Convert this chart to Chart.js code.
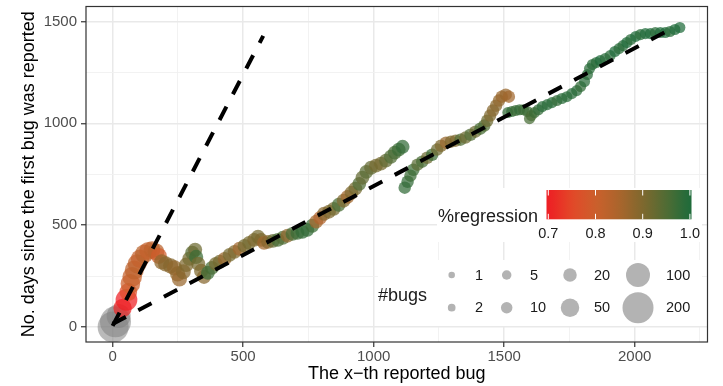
<!DOCTYPE html>
<html><head><meta charset="utf-8">
<script src="https://cdn.jsdelivr.net/npm/chart.js@4"></script>
<style>html,body{margin:0;padding:0;background:#fff}#wrap{position:relative;width:723px;height:386px;overflow:hidden}#c{position:absolute;left:0;top:-6px}</style>
</head><body><div id="wrap"><canvas id="c" width="723" height="392"></canvas></div>
<script>
// ---- data ----
const bugIndex = [2,11,23,38,53,60,68,75,83,94,105,121,136,151,166,177,188,203,222,237,249,256,271,282,294,305,316,320,328,339,350,365,380,395,410,429,448,467,486,505,523,542,557,569,580,595,614,633,652,670,689,708,727,746,765,780,795,810,829,847,866,885,900,915,930,945,957,972,990,1009,1028,1047,1066,1081,1096,1111,
1119,1130,1141,1152,1168,1186,1205,1224,1243,1258,1277,1296,1314,1333,1352,1371,1390,1409,1424,1435,1446,1457,1469,1480,1491,1506,1518,
1514,1529,1544,1559,1574,1589,1597,1604,1616,1631,1646,1665,1683,1702,1721,1740,1759,1778,1793,1808,1819,1827,1838,1853,1868,1887,1906,1924,1940,1955,1970,1985,2004,2022,2041,2060,2079,2098,2117,2135,2154,2173];
const daysSinceFirst = [0,25,54,93,133,172,212,246,280,310,335,359,374,379,369,349,320,310,300,290,261,236,271,305,335,364,379,344,310,275,246,266,290,310,320,334,354,369,384,398,413,428,443,428,413,418,423,428,438,448,457,462,467,477,497,517,536,556,566,580,600,620,639,659,679,703,733,762,782,792,802,817,836,856,871,885,
684,713,743,772,797,812,831,846,871,890,905,910,915,920,930,944,959,974,989,1013,1038,1063,1087,1112,1131,1141,1131,
1053,1058,1063,1067,1067,1058,1023,1038,1053,1067,1082,1092,1102,1112,1122,1131,1146,1161,1181,1205,1240,1269,1289,1299,1308,1318,1333,1353,1367,1382,1397,1412,1427,1436,1441,1441,1446,1446,1446,1451,1461,1471];
const regressionShare = [null,null,null,0.71,0.70,0.76,0.80,0.81,0.82,0.82,0.81,0.83,0.81,0.82,0.83,0.79,0.88,0.89,0.89,0.88,0.88,0.87,0.89,0.90,0.91,0.94,0.92,0.97,0.91,0.90,0.89,0.97,0.96,0.91,0.91,0.87,0.91,0.90,0.86,0.91,0.91,0.90,0.91,0.90,0.86,0.89,0.93,0.96,0.95,0.88,0.96,0.97,0.98,0.98,0.97,0.86,0.84,0.89,0.90,0.91,0.96,0.90,0.86,0.90,0.91,0.95,0.93,0.94,0.93,0.91,0.91,0.93,0.95,0.96,0.97,0.98,
0.98,0.98,0.97,0.97,0.94,0.96,0.92,0.97,0.92,0.90,0.87,0.90,0.90,0.95,0.92,0.95,0.92,0.96,0.95,0.92,0.90,0.89,0.89,0.88,0.87,0.87,0.86,
0.98,0.98,0.97,0.98,0.97,0.97,0.96,0.96,0.97,0.98,0.99,0.99,0.99,0.98,0.99,0.99,0.99,0.99,0.98,0.99,0.99,0.99,0.99,0.99,1.0,0.99,0.99,1.0,0.99,0.99,1.0,0.99,1.0,0.99,1.0,1.0,0.99,1.0,1.0,0.99,1.0,1.0];
const bugCount = [200,200,100,50,80,45,60,60,55,55,50,50,45,40,40,35,30,30,30,30,30,30,28,26,24,24,24,24,24,24,24,22,22,22,22,22,22,22,22,22,22,22,22,22,22,22,22,22,22,22,22,22,22,22,22,22,22,22,22,22,22,22,22,22,22,22,22,22,22,22,22,22,22,22,22,22,
15,15,15,15,15,15,15,15,15,15,15,15,15,15,15,15,15,15,15,15,15,15,15,15,15,15,15,
9,9,9,9,9,9,9,9,9,9,9,9,9,9,9,9,9,9,9,9,9,9,9,9,9,9,9,9,9,9,9,9,9,9,9,9,9,9,9,9,9,9];
const refLine1X = [0, 577];
const refLine1Y = [5, 1430];
const refLine2X = [0, 2135];
const refLine2Y = [15, 1461];
const xTickValues = [0,250,500,750,1000,1250,1500,1750,2000,2250];
const yTickValues = [0,250,500,750,1000,1250,1500];
const colorbarTicks = [0.7,0.8,0.9,1.0];
const colorbarTickLabels = ['0.7','0.8','0.9','1.0'];
const sizeLegendValues = [1,2,5,10,20,50,100,200];
const sizeLegendLabels = ['1','2','5','10','20','50','100','200'];

// ---- styling helpers ----
const FONT = "'Liberation Sans', Arial, Helvetica, sans-serif";
Chart.defaults.font.family = FONT;
const PANEL_TOP = 7;           // panel top on screen
let DY = 6;                    // canvas is shifted up by DY so the panel top lands at PANEL_TOP
const colorStops = [[0.7,[238,30,36]],[0.75,[226,72,40]],[0.8,[204,96,44]],[0.85,[170,101,44]],[0.9,[126,104,46]],[0.95,[80,108,52]],[1.0,[30,107,58]]];
function regRGB(v){
  if (v <= colorStops[0][0]) return colorStops[0][1];
  for (let i=1;i<colorStops.length;i++){
    if (v <= colorStops[i][0]){
      const [v0,c0]=colorStops[i-1],[v1,c1]=colorStops[i];
      const t=(v-v0)/(v1-v0);
      return c0.map((c,k)=>Math.round(c+(c1[k]-c)*t));
    }
  }
  return colorStops[colorStops.length-1][1];
}
function regColor(v,a){
  if (v===null||v===undefined) return `rgba(130,130,130,${a})`;
  const c=regRGB(v); return `rgba(${c[0]},${c[1]},${c[2]},${a})`;
}
const sizeKnots = [[1,6.5],[2,7.7],[5,9.5],[10,11.5],[20,13.5],[50,18.5],[100,24],[200,31]];
function radiusFor(n){
  if (n<=sizeKnots[0][0]) return sizeKnots[0][1]/2;
  for (let i=1;i<sizeKnots.length;i++){
    if (n<=sizeKnots[i][0]){
      const [n0,d0]=sizeKnots[i-1],[n1,d1]=sizeKnots[i];
      return (d0+(d1-d0)*(n-n0)/(n1-n0))/2;
    }
  }
  return sizeKnots[sizeKnots.length-1][1]/2;
}

const points = bugIndex.map((x,i)=>({x, y: daysSinceFirst[i]}));
const line1 = refLine1X.map((x,i)=>({x, y: refLine1Y[i]}));
const line2 = refLine2X.map((x,i)=>({x, y: refLine2Y[i]}));

const decor = {
  id: 'decor',
  afterDatasetsDraw(chart){
    const {ctx, chartArea:a} = chart;
    ctx.save();
    ctx.strokeStyle = '#333333'; ctx.lineWidth = 1.2;
    ctx.strokeRect(a.left, a.top, a.right-a.left, a.bottom-a.top);
    ctx.translate(0, DY);   // legend placed in screen coordinates
    // colour legend
    ctx.fillStyle = '#ffffff';
    ctx.fillRect(437, 188, 265, 54);
    const bx0 = 546.5, bx1 = 691.5, by0 = 190, by1 = 219.3;
    const vx = v => 548.3 + (v-0.7)/0.1*47.2;
    const xv = x => 0.7 + (x-548.3)/47.2*0.1;
    const g = ctx.createLinearGradient(bx0,0,bx1,0);
    for (let k=0;k<=20;k++){
      const x = bx0 + (bx1-bx0)*k/20;
      g.addColorStop(k/20, regColor(Math.min(1,Math.max(0.7,xv(x))),1));
    }
    ctx.fillStyle = g; ctx.fillRect(bx0, by0, bx1-bx0, by1-by0);
    ctx.strokeStyle = '#ffffff'; ctx.lineWidth = 1;
    ctx.fillStyle = '#1a1a1a';
    ctx.font = `14.5px ${FONT}`; ctx.textAlign='center'; ctx.textBaseline='middle';
    colorbarTicks.forEach((v,i)=>{
      const x = vx(v);
      ctx.beginPath(); ctx.moveTo(x,by0); ctx.lineTo(x,by0+5.5); ctx.moveTo(x,by1-5.5); ctx.lineTo(x,by1); ctx.stroke();
      ctx.fillText(colorbarTickLabels[i], x, 233.5);
    });
    ctx.font = `18px ${FONT}`; ctx.textAlign='left'; ctx.textBaseline='alphabetic';
    ctx.fillText('%regression', 438, 222);
    // size legend
    ctx.fillStyle = '#ffffff';
    ctx.fillRect(378, 260, 324, 66);
    ctx.fillStyle = '#1a1a1a';
    ctx.fillText('#bugs', 378, 301);
    const colX = [451.7, 506.7, 570, 638];
    const labX = [475, 530, 594, 666];
    const rowY = [275, 307.7];
    ctx.font = `14.5px ${FONT}`; ctx.textBaseline='middle';
    sizeLegendValues.forEach((v,i)=>{
      const c = Math.floor(i/2), r = i%2;
      ctx.fillStyle = '#b3b3b3';
      ctx.beginPath(); ctx.arc(colX[c], rowY[r], radiusFor(v), 0, Math.PI*2); ctx.fill();
      ctx.fillStyle = '#1a1a1a';
      ctx.fillText(sizeLegendLabels[i], labX[c], rowY[r]+0.5);
    });
    ctx.restore();
  }
};

const gridColor = c => (c.tick && c.tick.value % 500 === 0) ? '#e9e9e9' : '#f1f1f1';
const gridWidth = c => (c.tick && c.tick.value % 500 === 0) ? 1.5 : 0.9;
const tickColor = c => (c.tick && c.tick.value % 500 === 0) ? '#333333' : 'rgba(0,0,0,0)';

const canvas = document.getElementById('c');
const chart = new Chart(canvas, {
  type: 'scatter',
  data: { datasets: [
    { data: line1, showLine: true, pointRadius: 0, borderColor: '#000', borderWidth: 4, borderDash: [15,14], borderCapStyle: 'butt', order: 0 },
    { data: line2, showLine: true, pointRadius: 0, borderColor: '#000', borderWidth: 4, borderDash: [15,14], borderCapStyle: 'butt', order: 0 },
    { data: points, order: 1, borderWidth: 0,
      pointRadius: c => radiusFor(bugCount[c.dataIndex]),
      backgroundColor: c => regColor(regressionShare[c.dataIndex], regressionShare[c.dataIndex]===null ? 0.55 : 0.72),
      borderColor: 'rgba(0,0,0,0)' }
  ]},
  options: {
    responsive: false, maintainAspectRatio: false, animation: false, devicePixelRatio: 1,
    layout: { padding: { left: 0, right: 5, top: 7, bottom: 0 } },
    plugins: { legend: { display: false }, tooltip: { enabled: false } },
    scales: {
      x: { type: 'linear', min: -102, max: 2279,
        afterBuildTicks: s => { s.ticks = xTickValues.map(v=>({value:v})); },
        afterFit: s => { s.height = 44; },
        ticks: { autoSkip: false, maxRotation: 0, padding: 1, color: '#4d4d4d', font: { size: 15 },
          callback: v => (v % 500 === 0 ? String(v) : '') },
        grid: { color: gridColor, lineWidth: gridWidth, tickColor: tickColor, tickLength: 5, tickWidth: 1.2 },
        border: { display: false },
        title: { display: true, text: 'The x\u2212th reported bug', color: '#000', font: { size: 18 }, padding: { top: 0, bottom: 1 } }
      },
      y: { type: 'linear', min: -74, max: 1574,
        afterBuildTicks: s => { s.ticks = yTickValues.map(v=>({value:v})); },
        afterFit: s => { s.width = 86; },
        ticks: { autoSkip: false, padding: 4, color: '#4d4d4d', font: { size: 15 },
          callback: v => (v % 500 === 0 ? String(v) : '') },
        grid: { color: gridColor, lineWidth: gridWidth, tickColor: tickColor, tickLength: 5, tickWidth: 1.2 },
        border: { display: false },
        title: { display: true, text: 'No. days since the first bug was reported', color: '#000', font: { size: 18 }, padding: { top: 18, bottom: 0 } }
      }
    }
  },
  plugins: [decor]
});
// keep the panel top at the reference position whatever automatic padding Chart.js added
(function(){
  const dy = Math.round(chart.chartArea.top - PANEL_TOP);
  if (dy !== DY) {
    DY = dy;
    chart.resize(723, 386 + DY);
  }
  canvas.style.top = (-DY) + 'px';
  chart.update();
})();
</script>
</body></html>
